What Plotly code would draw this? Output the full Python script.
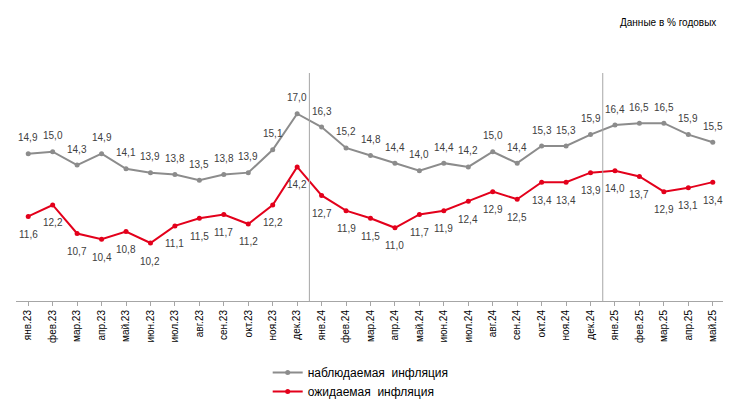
import plotly.graph_objects as go

months = ["янв.23","фев.23","мар.23","апр.23","май.23","июн.23","июл.23","авг.23","сен.23","окт.23","ноя.23","дек.23",
          "янв.24","фев.24","мар.24","апр.24","май.24","июн.24","июл.24","авг.24","сен.24","окт.24","ноя.24","дек.24",
          "янв.25","фев.25","мар.25","апр.25","май.25"]
observed = [14.9,15.0,14.3,14.9,14.1,13.9,13.8,13.5,13.8,13.9,15.1,17.0,16.3,15.2,14.8,14.4,14.0,14.4,14.2,15.0,14.4,15.3,15.3,15.9,16.4,16.5,16.5,15.9,15.5]
expected = [11.6,12.2,10.7,10.4,10.8,10.2,11.1,11.5,11.7,11.2,12.2,14.2,12.7,11.9,11.5,11.0,11.7,11.9,12.4,12.9,12.5,13.4,13.4,13.9,14.0,13.7,12.9,13.1,13.4]

fmt = lambda v: f"{v:.1f}".replace(".", ",")
x = list(range(len(months)))

fig = go.Figure()
fig.add_trace(go.Scatter(x=x, y=observed, mode="lines+markers", name="наблюдаемая  инфляция",
    line=dict(color="#8c8c8c", width=2), marker=dict(size=5, color="#8c8c8c")))
fig.add_trace(go.Scatter(x=x, y=expected, mode="lines+markers", name="ожидаемая  инфляция",
    line=dict(color="#e3001b", width=2), marker=dict(size=5, color="#e3001b")))

for xi, v in zip(x, observed):
    fig.add_annotation(x=xi, y=v, text=fmt(v), showarrow=False, yshift=16,
                       font=dict(size=10, color="#404040"))
for xi, v in zip(x, expected):
    fig.add_annotation(x=xi, y=v, text=fmt(v), showarrow=False, yshift=-18,
                       font=dict(size=10, color="#404040"))

for xv in (11.5, 23.5):
    fig.add_shape(type="line", xref="x", yref="paper", x0=xv, x1=xv, y0=0, y1=1,
                  line=dict(color="#a6a6a6", width=1))

fig.add_annotation(text="Данные в % годовых", xref="paper", yref="paper", x=0.99, y=1.22,
                   xanchor="right", yanchor="middle", showarrow=False, font=dict(size=10, color="#000"))

fig.update_layout(
    width=731, height=406, margin=dict(l=8, r=14, t=65, b=106),
    plot_bgcolor="white", paper_bgcolor="white",
    font=dict(family="Liberation Sans, Arial", size=10, color="#000"),
    xaxis=dict(tickmode="array", tickvals=x, ticktext=months, tickangle=-90, range=[-0.5, 28.5],
               showgrid=False, showline=True, linecolor="#a6a6a6", ticks="outside", ticklen=4,
               tickcolor="#a6a6a6", tickfont=dict(size=10)),
    yaxis=dict(range=[7.15, 19.14], visible=False),
    legend=dict(x=0.355, y=-0.25, xanchor="left", yanchor="top", font=dict(size=12), tracegroupgap=0),
    showlegend=True,
)
fig.write_html("out.html")
